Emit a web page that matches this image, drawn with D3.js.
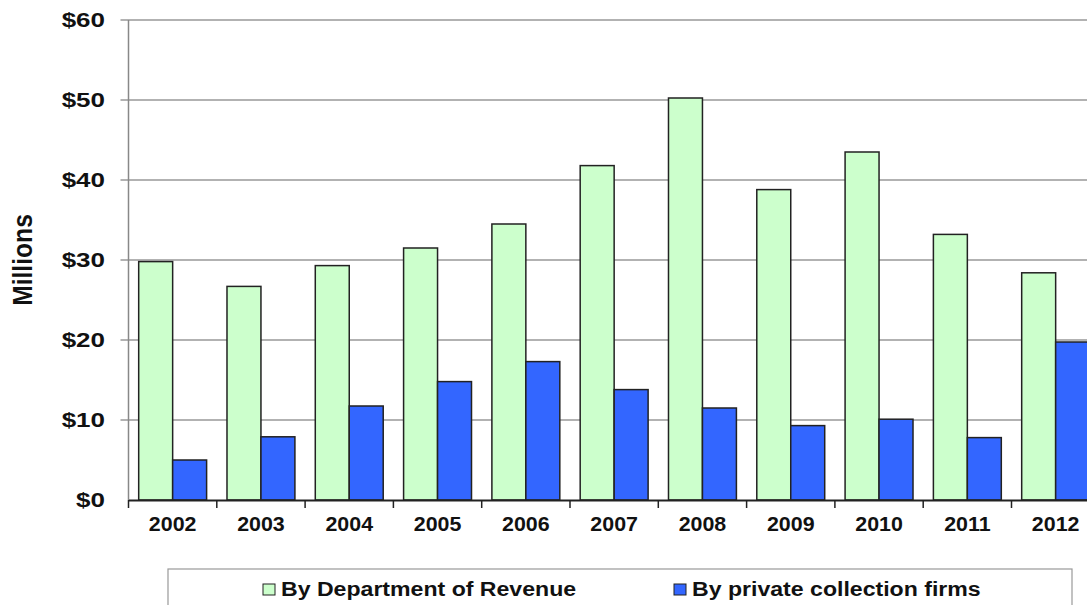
<!DOCTYPE html>
<html>
<head>
<meta charset="utf-8">
<script src="https://cdn.jsdelivr.net/npm/d3@7"></script>
<style>
    body { margin: 0; background: #fff; }
    svg { display: block; font-family: "Liberation Sans", Arial, sans-serif; font-weight: bold; }
</style>
</head>
<body>
<svg width="1087" height="605"></svg>
<script>
let width = 1087;
let height = 605;

// data
let years = ["2002", "2003", "2004", "2005", "2006", "2007", "2008", "2009", "2010", "2011", "2012"];
let revenueValues = [29.8, 26.7, 29.3, 31.5, 34.5, 41.8, 50.25, 38.8, 43.5, 33.2, 28.4];
let privateValues = [5.0, 7.9, 11.75, 14.8, 17.3, 13.8, 11.5, 9.3, 10.1, 7.8, 19.75];
let yTicks = [0, 10, 20, 30, 40, 50, 60];
let seriesKeys = ["revenue", "private"];
let seriesNames = ["By Department of Revenue", "By private collection firms"];
let seriesColors = ["#ccffcc", "#3366ff"];

let margin = {top: 20, left: 128.5, bottom: 105};
let step = 88.3;

let svg = d3.select("svg")

let rows = years.map((y, i) => ({year: y, revenue: revenueValues[i], private: privateValues[i]}))

// outer scale for the year groups (runs past the right edge, like the original)
let x0 = d3.scaleBand()
    .domain(years)
    .range([margin.left, margin.left + step * years.length])
    .padding(0)

// inner scale for the two bars in a group
let x1 = d3.scaleBand()
    .domain(seriesKeys)
    .range([0, x0.bandwidth()])
    .paddingInner(0)
    .paddingOuter(0.3)

let y = d3.scaleLinear()
    .domain([0, 60])
    .range([height - margin.bottom, margin.top])

// gridlines
svg.append("g")
    .selectAll("line")
    .data(yTicks.filter(d => d > 0))
    .join("line")
    .attr("x1", margin.left - 8)
    .attr("x2", x0.range()[1])
    .attr("y1", d => y(d))
    .attr("y2", d => y(d))
    .style("stroke", "#999")
    .style("stroke-width", "1.5px")

// y axis line
svg.append("line")
    .attr("x1", margin.left)
    .attr("x2", margin.left)
    .attr("y1", y(60))
    .attr("y2", y(0))
    .style("stroke", "#888")
    .style("stroke-width", "1.5px")

// y tick labels (stretched sideways like the source)
svg.append("g")
    .selectAll("text")
    .data(yTicks)
    .join("text")
    .attr("transform", d => `translate(105,${y(d) + 7}) scale(1.3,1)`)
    .attr("text-anchor", "end")
    .style("font-size", "20px")
    .style("fill", "#111")
    .text(d => "$" + d)

// axis title
svg.append("text")
    .attr("transform", `translate(32,${(y(0) + y(60)) / 2}) rotate(-90) scale(1.12,1.25)`)
    .attr("text-anchor", "middle")
    .style("font-size", "22px")
    .style("fill", "#111")
    .text("Millions")

// bars
let groups = svg.append("g")
    .selectAll("g")
    .data(rows)
    .join("g")
    .attr("transform", d => `translate(${x0(d.year)},0)`)

groups.selectAll("rect")
    .data(d => seriesKeys.map(k => ({key: k, value: d[k]})))
    .join("rect")
    .attr("x", d => x1(d.key))
    .attr("width", x1.bandwidth())
    .attr("y", d => y(d.value))
    .attr("height", d => y(0) - y(d.value))
    .style("fill", d => seriesColors[seriesKeys.indexOf(d.key)])
    .style("stroke", "#222")
    .style("stroke-width", "1.5px")

// baseline + x ticks
let xAxis = d3.axisBottom(x0)
    .tickSize(0)
    .tickPadding(0)
    .tickFormat("")

svg.append("g")
    .attr("transform", `translate(0,${y(0)})`)
    .call(xAxis)
    .call(g => g.select(".domain").style("stroke", "#222").style("stroke-width", "2px"))

svg.append("g")
    .selectAll("line")
    .data(d3.range(years.length + 1))
    .join("line")
    .attr("x1", i => margin.left + step * i)
    .attr("x2", i => margin.left + step * i)
    .attr("y1", y(0))
    .attr("y2", y(0) + 8)
    .style("stroke", "#222")
    .style("stroke-width", "1.5px")

// year labels
svg.append("g")
    .selectAll("text")
    .data(years)
    .join("text")
    .attr("transform", d => `translate(${x0(d) + x0.bandwidth() / 2},531) scale(1.07,1)`)
    .attr("text-anchor", "middle")
    .style("font-size", "20px")
    .style("fill", "#111")
    .text(d => d)

// legend box (cut off at the bottom of the picture)
svg.append("rect")
    .attr("x", 168)
    .attr("y", 569)
    .attr("width", 904)
    .attr("height", 60)
    .style("fill", "#fff")
    .style("stroke", "#999")
    .style("stroke-width", "1.2px")

let legendX = [263, 674];

let legend = svg.append("g")
    .selectAll("g")
    .data(seriesNames)
    .join("g")
    .attr("transform", (d, i) => `translate(${legendX[i]},584)`)

legend.append("rect")
    .attr("width", 12)
    .attr("height", 11)
    .style("fill", (d, i) => seriesColors[i])
    .style("stroke", "#222")
    .style("stroke-width", "1px")

legend.append("text")
    .attr("transform", "translate(18,11.5) scale(1.1,1)")
    .style("font-size", "21px")
    .style("fill", "#111")
    .text(d => d)
</script>
</body>
</html>
